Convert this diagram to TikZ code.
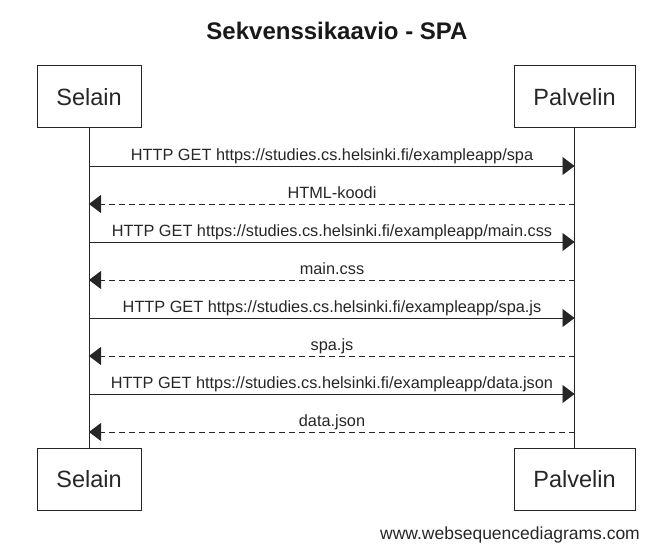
\documentclass[tikz,border=0pt]{standalone}
\usepackage{fontspec}
\setmainfont{Liberation Sans}
\usetikzlibrary{arrows.meta}
\begin{document}
\begin{tikzpicture}[x=1pt,y=-1pt,
  actor/.style={draw=black!85,line width=1pt,inner sep=0pt,minimum width=104pt,minimum height=62pt,font=\fontsize{23.5}{26}\selectfont,text=black!85},
  msg/.style={draw=black!85,line width=0.9pt,-{Triangle[length=12pt,width=18pt]}},
  reply/.style={msg,dash pattern=on 6pt off 4pt},
  lbl/.style={font=\fontsize{16.3}{18}\selectfont,text=black!85,inner sep=0pt,anchor=base},
  life/.style={draw=black!85,line width=0.9pt}]
\useasboundingbox (0,0) rectangle (658,556);
\node[font=\bfseries\fontsize{24}{26}\selectfont,text=black!90] (title) at (337,31) {Sekvenssikaavio - SPA};
\node[actor] (s1) at (89,97) {Selain};
\node[actor,minimum width=121pt] (p1) at (574.5,97) {Palvelin};
\node[actor] (s2) at (89,479) {Selain};
\node[actor,minimum width=121pt] (p2) at (574.5,479) {Palvelin};
\draw[life] (s1.south) -- (s2.north);
\draw[life] (p1.south) -- (p2.north);
\foreach \i/\y/\t/\k in {1/166/{HTTP GET https://studies.cs.helsinki.fi/exampleapp/spa}/0,
  2/204/{HTML-koodi}/1,
  3/242/{HTTP GET https://studies.cs.helsinki.fi/exampleapp/main.css}/0,
  4/280/{main.css}/1,
  5/318/{HTTP GET https://studies.cs.helsinki.fi/exampleapp/spa.js}/0,
  6/356/{spa.js}/1,
  7/394/{HTTP GET https://studies.cs.helsinki.fi/exampleapp/data.json}/0,
  8/432/{data.json}/1}{
  \coordinate (a\i) at (s1.south |- 0,\y);
  \coordinate (b\i) at (p1.south |- 0,\y);
  \ifnum\k=0
    \draw[msg] (a\i) -- (b\i);
  \else
    \draw[reply] (b\i) -- (a\i);
  \fi
  \node[lbl] (t\i) at (332,\y-5.5) {\t};
}
\node[font=\fontsize{17.5}{20}\selectfont,text=black!85,anchor=base] (foot) at (510,539) {www.websequencediagrams.com};
\end{tikzpicture}
\end{document}
